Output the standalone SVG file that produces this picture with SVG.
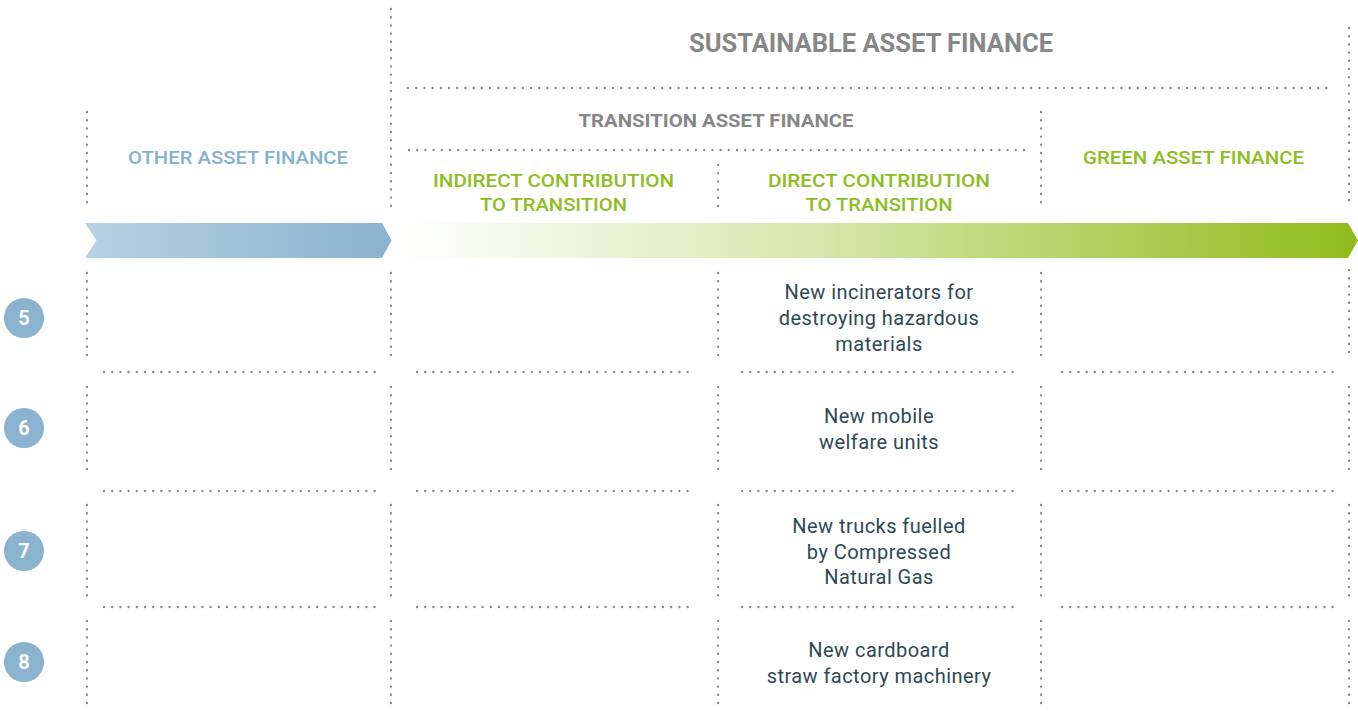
<svg xmlns="http://www.w3.org/2000/svg" width="1358" height="711" viewBox="0 0 1358 711">
<defs>
<linearGradient id="gBlue" x1="0" y1="0" x2="1" y2="0">
<stop offset="0" stop-color="#b6d1e2"/>
<stop offset="1" stop-color="#89b3cf"/>
</linearGradient>
<linearGradient id="gGreen" x1="0" y1="0" x2="1" y2="0">
<stop offset="0" stop-color="#ffffff"/>
<stop offset="0.45" stop-color="#d4e6a8"/>
<stop offset="1" stop-color="#8fbc1a"/>
</linearGradient>
<style>
.dot{stroke:#8a8a8a;stroke-width:2.4;stroke-linecap:round;stroke-dasharray:0 8.2;fill:none}
.h{font-family:Roboto,"Liberation Sans",sans-serif;font-weight:700;text-anchor:middle}
.gray{fill:#878787}
.blue{fill:#86b1cf}
.green{fill:#8dbd1f}
.g{font-family:Roboto,"Liberation Sans",sans-serif;font-weight:500;text-anchor:middle;font-size:19px}
.body{font-family:Roboto,"Liberation Sans",sans-serif;font-weight:400;text-anchor:middle;font-size:20px;letter-spacing:0.45px;fill:#2e4954}
.num{fill:#8ab3cf}
.numt{font-family:Roboto,"Liberation Sans",sans-serif;font-weight:700;text-anchor:middle;font-size:20px;fill:#ffffff}
</style>
</defs>
<rect width="1358" height="711" fill="#ffffff"/>

<g id="connectors">
<line class="dot" x1="391" y1="9" x2="391" y2="207"/>
<line class="dot" x1="1349" y1="28" x2="1349" y2="207"/>
<line class="dot" x1="87" y1="112" x2="87" y2="207"/>
<line class="dot" x1="1041" y1="112" x2="1041" y2="207"/>
<line class="dot" x1="718" y1="165" x2="718" y2="207"/>
<line class="dot" x1="408" y1="88" x2="1332" y2="88"/>
<line class="dot" x1="409" y1="150" x2="1025" y2="150"/>
<g>
<line class="dot" x1="87" y1="273" x2="87" y2="357"/>
<line class="dot" x1="391" y1="273" x2="391" y2="357"/>
<line class="dot" x1="718" y1="273" x2="718" y2="357"/>
<line class="dot" x1="1041" y1="273" x2="1041" y2="357"/>
<line class="dot" x1="1349" y1="270" x2="1349" y2="360"/>

<line class="dot" x1="87" y1="387" x2="87" y2="477"/>
<line class="dot" x1="391" y1="387" x2="391" y2="477"/>
<line class="dot" x1="718" y1="387" x2="718" y2="477"/>
<line class="dot" x1="1041" y1="387" x2="1041" y2="477"/>
<line class="dot" x1="1349" y1="387" x2="1349" y2="477"/>

<line class="dot" x1="87" y1="505" x2="87" y2="596"/>
<line class="dot" x1="391" y1="505" x2="391" y2="596"/>
<line class="dot" x1="718" y1="505" x2="718" y2="596"/>
<line class="dot" x1="1041" y1="505" x2="1041" y2="596"/>
<line class="dot" x1="1349" y1="505" x2="1349" y2="596"/>

<line class="dot" x1="87" y1="621" x2="87" y2="711"/>
<line class="dot" x1="391" y1="621" x2="391" y2="711"/>
<line class="dot" x1="718" y1="621" x2="718" y2="711"/>
<line class="dot" x1="1041" y1="621" x2="1041" y2="711"/>
<line class="dot" x1="1349" y1="621" x2="1349" y2="711"/>
</g>
<g>
<line class="dot" x1="104" y1="372" x2="377" y2="372"/>
<line class="dot" x1="417" y1="372" x2="690" y2="372"/>
<line class="dot" x1="742" y1="372" x2="1015" y2="372"/>
<line class="dot" x1="1062" y1="372" x2="1335" y2="372"/>

<line class="dot" x1="104" y1="491" x2="377" y2="491"/>
<line class="dot" x1="417" y1="491" x2="690" y2="491"/>
<line class="dot" x1="742" y1="491" x2="1015" y2="491"/>
<line class="dot" x1="1062" y1="491" x2="1335" y2="491"/>

<line class="dot" x1="104" y1="607" x2="377" y2="607"/>
<line class="dot" x1="417" y1="607" x2="690" y2="607"/>
<line class="dot" x1="742" y1="607" x2="1015" y2="607"/>
<line class="dot" x1="1062" y1="607" x2="1335" y2="607"/>
</g>
</g>

<g id="arrows">
<polygon points="85,223 382,223 391.5,240.5 382,258 85,258 96.5,240.5" fill="url(#gBlue)"/>
<polygon points="400,223 1348,223 1358,240.5 1348,258 400,258" fill="url(#gGreen)"/>
</g>

<g id="sustainable">
<text class="h gray" x="871" y="52" font-size="26" textLength="364" lengthAdjust="spacingAndGlyphs">SUSTAINABLE ASSET FINANCE</text>
</g>
<g id="transition">
<text class="h gray" x="716" y="127" font-size="19" textLength="275" lengthAdjust="spacingAndGlyphs">TRANSITION ASSET FINANCE</text>
</g>
<g id="other">
<text class="g blue" x="238" y="164" textLength="220" lengthAdjust="spacingAndGlyphs">OTHER ASSET FINANCE</text>
</g>
<g id="green">
<text class="g green" x="1193.5" y="164" textLength="221" lengthAdjust="spacingAndGlyphs">GREEN ASSET FINANCE</text>
</g>
<g id="indirect">
<text class="g green" x="553.5" y="187" textLength="241" lengthAdjust="spacingAndGlyphs">INDIRECT CONTRIBUTION</text>
<text class="g green" x="553.5" y="211" textLength="147" lengthAdjust="spacingAndGlyphs">TO TRANSITION</text>
</g>
<g id="direct">
<text class="g green" x="879" y="187" textLength="222" lengthAdjust="spacingAndGlyphs">DIRECT CONTRIBUTION</text>
<text class="g green" x="879" y="211" textLength="147" lengthAdjust="spacingAndGlyphs">TO TRANSITION</text>
</g>

<g id="n5"><circle class="num" cx="24" cy="318" r="20"/><text class="numt" x="24" y="325">5</text></g>
<g id="n6"><circle class="num" cx="24" cy="428" r="20"/><text class="numt" x="24" y="435">6</text></g>
<g id="n7"><circle class="num" cx="24" cy="551" r="20"/><text class="numt" x="24" y="558">7</text></g>
<g id="n8"><circle class="num" cx="24" cy="662" r="20"/><text class="numt" x="24" y="669">8</text></g>

<g id="item5">
<text class="body" x="879" y="299">New incinerators for</text>
<text class="body" x="879" y="325">destroying hazardous</text>
<text class="body" x="879" y="350.5">materials</text>
</g>
<g id="item6">
<text class="body" x="879" y="423">New mobile</text>
<text class="body" x="879" y="448.5">welfare units</text>
</g>
<g id="item7">
<text class="body" x="879" y="533">New trucks fuelled</text>
<text class="body" x="879" y="558.5">by Compressed</text>
<text class="body" x="879" y="584">Natural Gas</text>
</g>
<g id="item8">
<text class="body" x="879" y="657">New cardboard</text>
<text class="body" x="879" y="683">straw factory machinery</text>
</g>
</svg>
